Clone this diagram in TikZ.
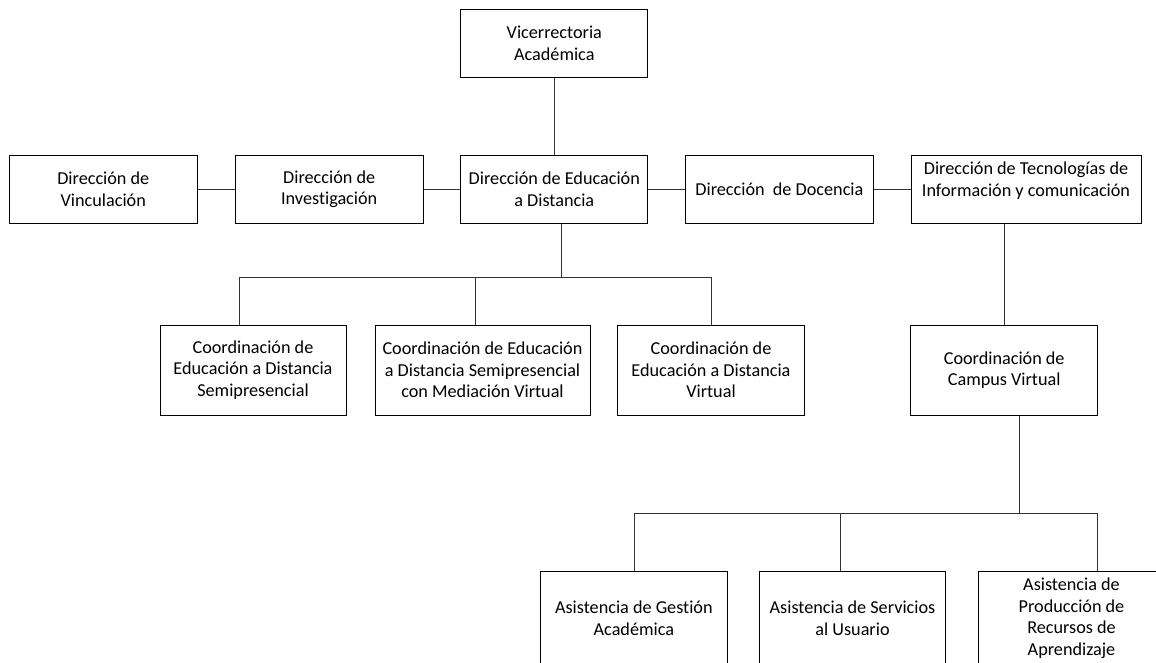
\documentclass[tikz,border=0pt]{standalone}
\usepackage{fontspec}
\setmainfont[Ligatures=NoCommon]{Carlito}
\begin{document}
\begin{tikzpicture}[x=1pt,y=-1pt,
  box/.style={draw=black, line width=1pt, align=center, inner sep=0pt, fill=white,
    font=\fontsize{18.2}{21.5}\selectfont},
  rtwo/.style={box, minimum width=188pt, minimum height=67.5pt},
  rthree/.style={box, minimum height=90pt},
  rfour/.style={box, minimum height=94pt},
  link/.style={draw=black!80, line width=1pt}]
\useasboundingbox (0,0) rectangle (1156,662);
\fill[white] (0,0) rectangle (1156,662);
\clip (0,0) rectangle (1156,662);

% nodes
\node[box, minimum width=187.3pt, minimum height=67.7pt] (vice) at (554.3,43.2) {Vicerrectoria\\Académica};
\node[rtwo] (vinc) at (103.3,189.3) {Dirección de\\Vinculación};
\node[rtwo] (inv) at (329.2,189.3) {Dirección de\\Investigación};
\node[rtwo, minimum width=187.3pt] (edu) at (554.3,189.3) {Dirección de Educación\\a Distancia};
\node[rtwo, minimum width=187.3pt] (doc) at (779.4,189.3) {Dirección~~de Docencia};
\node[rtwo, minimum width=230pt] (tec) at (1026,189.3) {Dirección de Tecnologías de\\Información y comunicación\\[-8pt]\strut};

\node[rthree, minimum width=186pt] (c1) at (253,370) {Coordinación de\\Educación a Distancia\\Semipresencial};
\node[rthree, minimum width=215pt] (c2) at (482.5,370) {Coordinación de Educación\\a Distancia Semipresencial\\con Mediación Virtual};
\node[rthree, minimum width=186.6pt] (c3) at (711,370) {Coordinación de\\Educación a Distancia\\Virtual};
\node[rthree, minimum width=187pt] (campus) at (1004.2,370) {Coordinación de\\Campus Virtual};

\node[rfour, minimum width=187.7pt] (ges) at (633.85,618) {Asistencia de Gestión\\Académica};
\node[rfour, minimum width=186.4pt] (ser) at (852.5,618) {Asistencia de Servicios\\al Usuario};
\node[rfour, minimum width=187pt] (pro) at (1071.5,618) {Asistencia de\\Producción de\\Recursos de\\Aprendizaje};

% junction points
\coordinate (j1) at (561.7,277.3);
\coordinate (d1) at (239,277.3);
\coordinate (d2) at (475,277.3);
\coordinate (d3) at (711.7,277.3);
\coordinate (j2) at (1019,513.3);
\coordinate (e1) at (634,513.3);
\coordinate (e2) at (840,513.3);
\coordinate (e3) at (1097,513.3);

% connectors
\draw[link] (vice) -- (edu);
\draw[link] (vinc) -- (inv);
\draw[link] (inv) -- (edu);
\draw[link] (edu) -- (doc);
\draw[link] (doc.east) -- (doc.east -| tec.west);

\draw[link] (j1 |- edu.south) -- (j1);
\draw[link] (d1) -- (d3);
\draw[link] (d1) -- (d1 |- c1.north);
\draw[link] (d2) -- (d2 |- c2.north);
\draw[link] (d3) -- (d3 |- c3.north);

\draw[link] (campus.north) -- (campus.north |- tec.south);

\draw[link] (j2 |- campus.south) -- (j2);
\draw[link] (e1) -- (e3);
\draw[link] (e1) -- (e1 |- ges.north);
\draw[link] (e2) -- (e2 |- ser.north);
\draw[link] (e3) -- (e3 |- pro.north);
\end{tikzpicture}
\end{document}
